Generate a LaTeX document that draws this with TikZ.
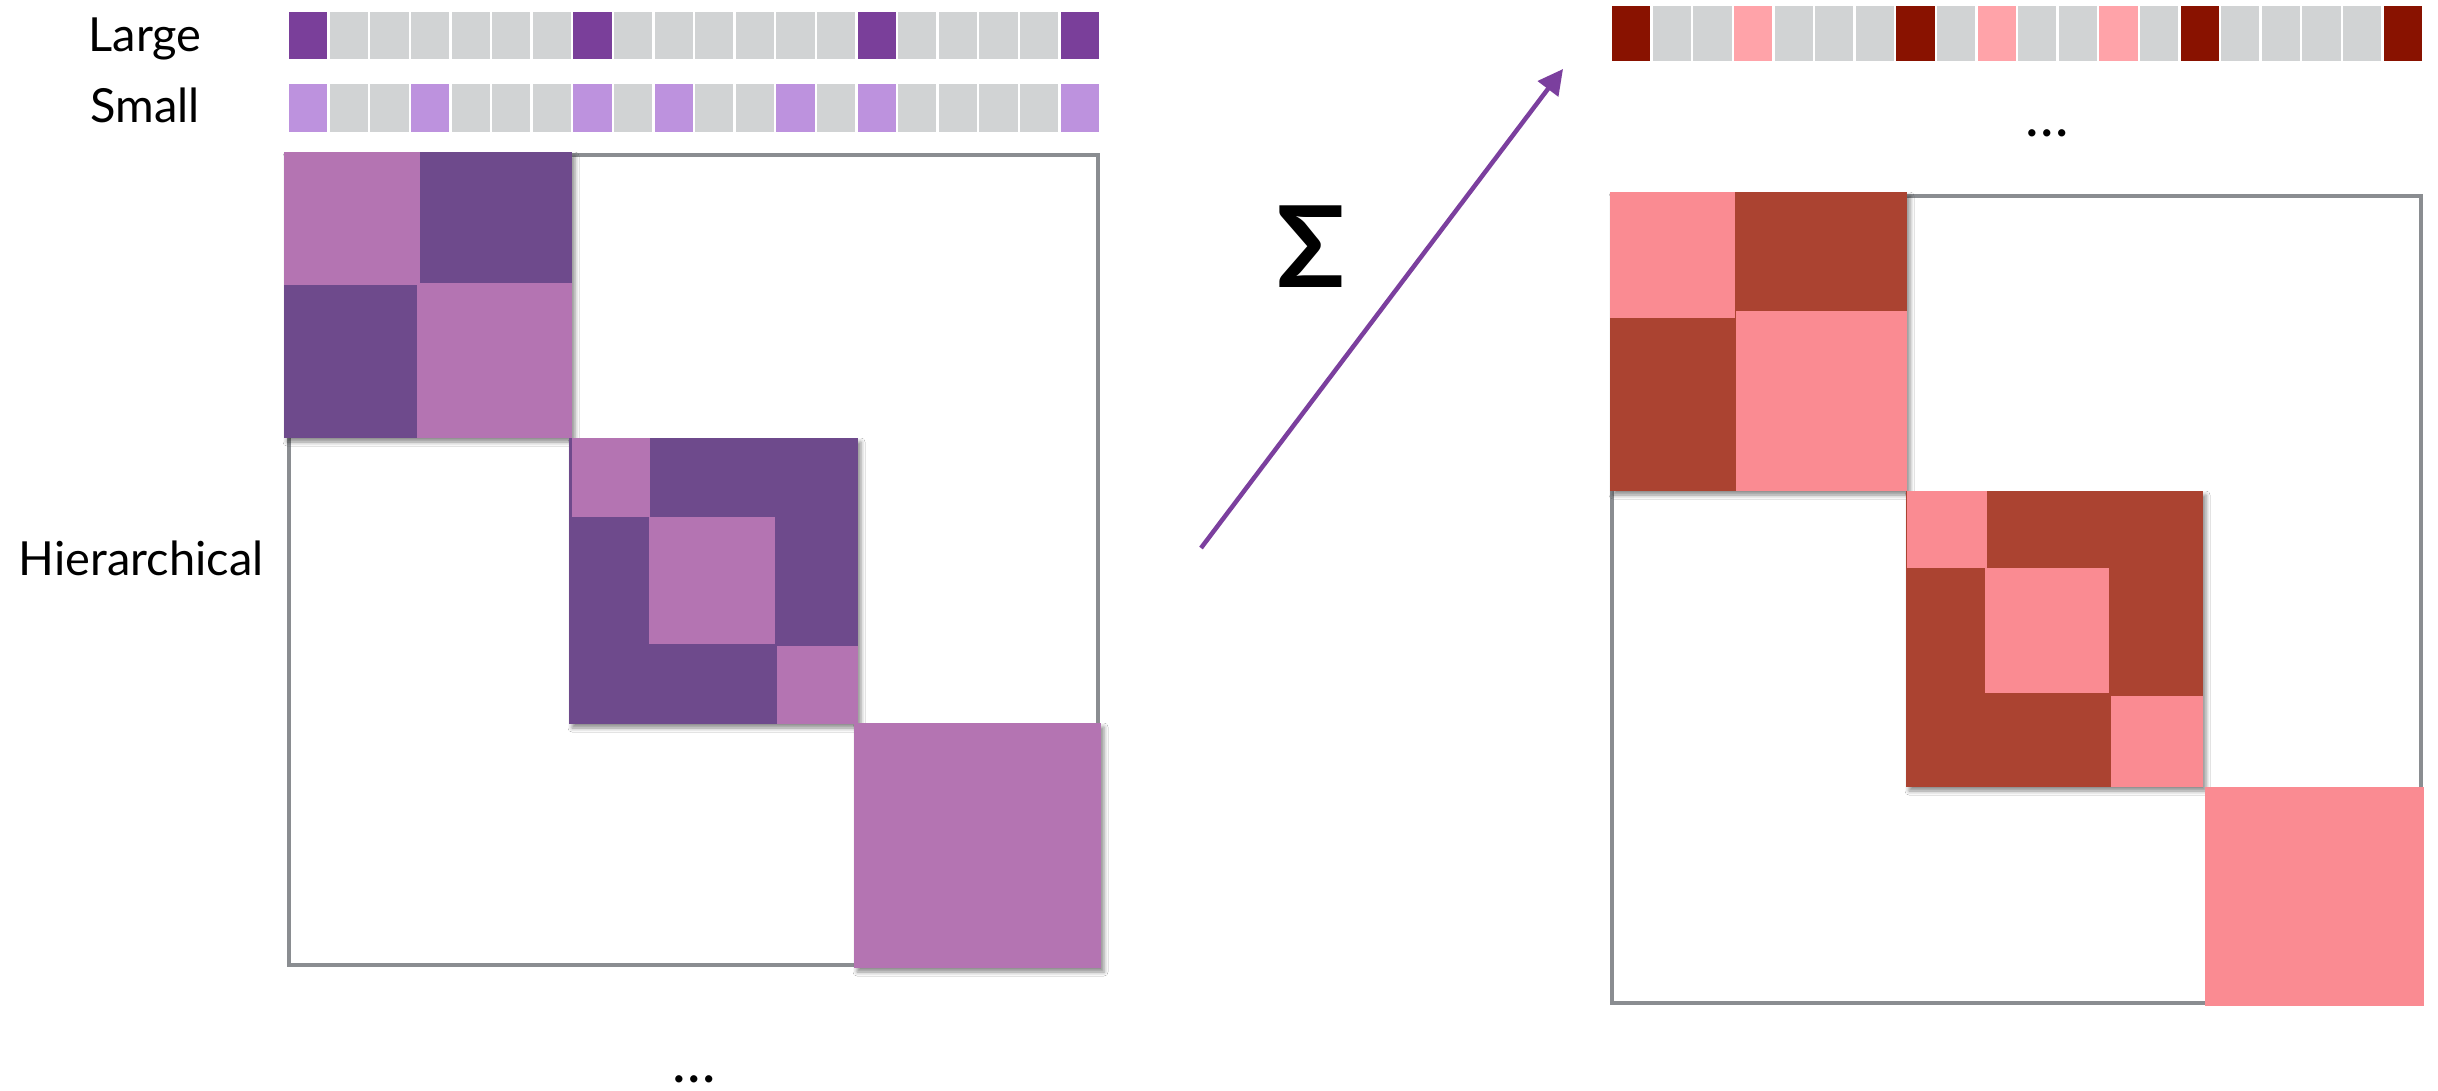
\documentclass[tikz,border=0pt]{standalone}
\usepackage{fontspec}
\setmainfont{Lato}
\usetikzlibrary{arrows.meta,shadows.blur}
\definecolor{cellgray}{HTML}{D1D3D4}
\definecolor{largec}{HTML}{7A3F9A}
\definecolor{smallc}{HTML}{BD92DE}
\definecolor{sumdark}{HTML}{891200}
\definecolor{sumpink}{HTML}{FFA3A9}
\definecolor{plight}{HTML}{B474B2}
\definecolor{pdark}{HTML}{6E4A8C}
\definecolor{rdark}{HTML}{AB4331}
\definecolor{rpink}{HTML}{FA8B92}
\definecolor{arrowpurple}{HTML}{7B3F9E}
\definecolor{framegray}{HTML}{8A8D91}
\begin{document}
\begin{tikzpicture}[x=1pt,y=-1pt,
  frame/.style={draw=framegray,line width=4.5pt},
  blockshadow/.style={blur shadow={shadow xshift=3pt,shadow yshift=-4pt,shadow blur radius=4pt,shadow opacity=45}},
  lbl/.style={inner sep=0pt,font=\fontsize{47}{56}\selectfont},
  dotlbl/.style={inner sep=0pt,font=\fontsize{58}{66}\selectfont},
  sumarrow/.style={draw=arrowpurple,line width=4.5pt,-{Triangle[length=25pt,width=25pt]}}]
\useasboundingbox[fill=white] (0,0) rectangle (2438,1090);

% ---- bars ----
\foreach \k in {0,...,19}{
  \pgfmathsetmacro\xa{288+\k*40.6+1.2}
  \pgfmathsetmacro\xb{288+(\k+1)*40.6-1.2}
  \fill[cellgray] (\xa,12) rectangle (\xb,59);
  \fill[cellgray] (\xa,84) rectangle (\xb,132);
  \pgfmathsetmacro\xc{1611+\k*40.6+1.2}
  \pgfmathsetmacro\xd{1611+(\k+1)*40.6-1.2}
  \fill[cellgray] (\xc,6) rectangle (\xd,61);
}
\foreach \k in {0,7,14,19}{
  \pgfmathsetmacro\xa{288+\k*40.6+1.2}
  \pgfmathsetmacro\xb{288+(\k+1)*40.6-1.2}
  \fill[largec] (\xa,12) rectangle (\xb,59);
  \pgfmathsetmacro\xc{1611+\k*40.6+1.2}
  \pgfmathsetmacro\xd{1611+(\k+1)*40.6-1.2}
  \fill[sumdark] (\xc,6) rectangle (\xd,61);
}
\foreach \k in {0,3,7,9,12,14,19}{
  \pgfmathsetmacro\xa{288+\k*40.6+1.2}
  \pgfmathsetmacro\xb{288+(\k+1)*40.6-1.2}
  \fill[smallc] (\xa,84) rectangle (\xb,132);
}
\foreach \k in {3,9,12}{
  \pgfmathsetmacro\xc{1611+\k*40.6+1.2}
  \pgfmathsetmacro\xd{1611+(\k+1)*40.6-1.2}
  \fill[sumpink] (\xc,6) rectangle (\xd,61);
}

% ---- labels ----
\node[lbl,anchor=base] (lblLarge) at (145,51) {Large};
\node[lbl,anchor=base] (lblSmall) at (145,122) {Small};
\node[lbl,anchor=base] (lblHier) at (141,575) {Hierarchical};
\node[dotlbl,anchor=base] (dotsL) at (694,1082) {…};
\node[dotlbl,anchor=base] (dotsR) at (2047,136) {…};
\node[inner sep=0pt,font=\fontsize{113}{130}\selectfont\bfseries] (sigma) at (1311,247) {Σ};

% ---- left matrix ----
\draw[frame] (289,155) rectangle (1098,965);
% block 1
\fill[pdark,blockshadow] (284,152) rectangle (572,438);
\fill[plight] (284,152) rectangle (420,285);
\fill[pdark] (420,152) rectangle (570,283);
\fill[pdark] (284,285) rectangle (417,438);
\fill[plight] (417,283) rectangle (572,438);
% block 2
\fill[pdark,blockshadow] (569,438) rectangle (858,724);
\fill[plight] (572,438) rectangle (650,517);
\fill[plight] (649,517) rectangle (775,644);
\fill[plight] (777,646) rectangle (858,724);
% block 3
\fill[plight,blockshadow] (854,723) rectangle (1101,968);

% ---- right matrix ----
\draw[frame] (1612,196) rectangle (2421,1003);
% block 1
\fill[rdark,blockshadow] (1610,192) rectangle (1907,491);
\fill[rpink] (1610,192) rectangle (1735,318);
\fill[rdark] (1736,192) rectangle (1907,311);
\fill[rdark] (1610,318) rectangle (1735,491);
\fill[rpink] (1736,311) rectangle (1907,491);
% block 2
\fill[rdark,blockshadow] (1906,491) rectangle (2203,787);
\fill[rpink] (1907,491) rectangle (1987,568);
\fill[rpink] (1985,568) rectangle (2109,693);
\fill[rpink] (2111,696) rectangle (2203,787);
% block 3
\fill[rpink] (2205,787) rectangle (2424,1006);

% ---- arrow ----
\coordinate (arrS) at (1201,548);
\coordinate (arrE) at (1563,69);
\draw[sumarrow] (arrS) -- (arrE);
\end{tikzpicture}
\end{document}
